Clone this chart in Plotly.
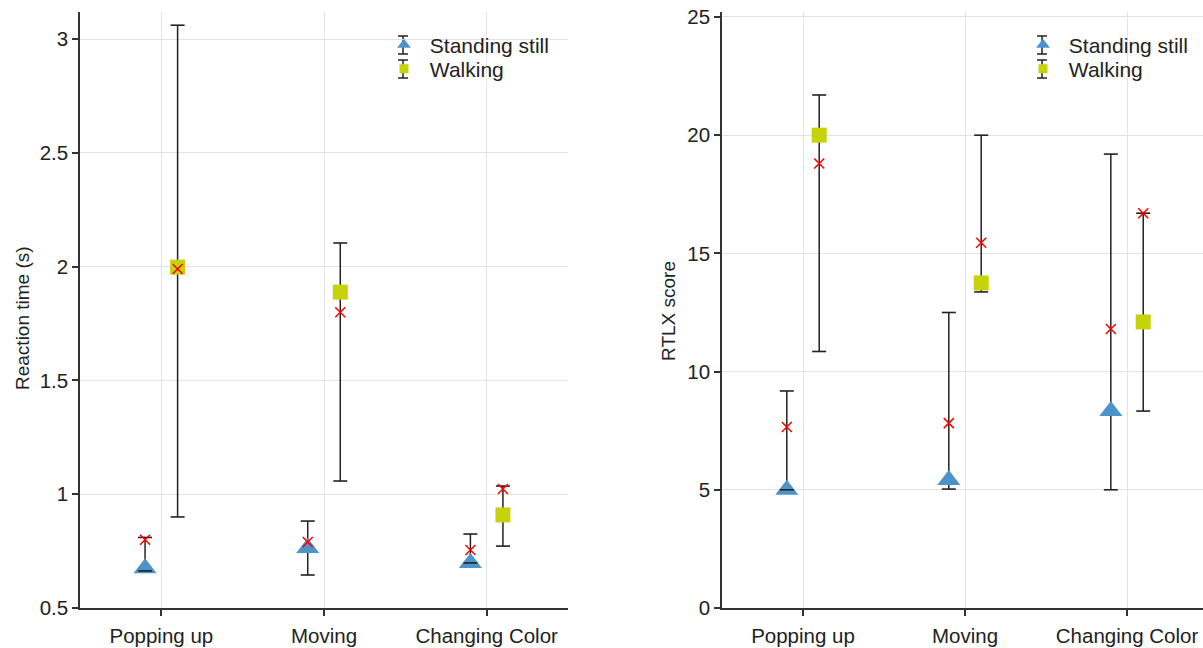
import plotly.graph_objects as go

categories = ["Popping up", "Moving", "Changing Color"]

# Reaction time (s)
rt_stand_median = [0.675, 0.764, 0.698]
rt_stand_low = [0.663, 0.645, 0.698]
rt_stand_high = [0.81, 0.882, 0.825]
rt_stand_mean = [0.80, 0.79, 0.755]

rt_walk_median = [1.998, 1.888, 0.909]
rt_walk_low = [0.90, 1.058, 0.772]
rt_walk_high = [3.061, 2.104, 1.036]
rt_walk_mean = [1.99, 1.80, 1.023]

# RTLX score
rtlx_stand_median = [5.0, 5.41, 8.33]
rtlx_stand_low = [5.0, 5.03, 5.0]
rtlx_stand_high = [9.18, 12.5, 19.2]
rtlx_stand_mean = [7.66, 7.82, 11.8]

rtlx_walk_median = [20.0, 13.75, 12.1]
rtlx_walk_low = [10.85, 13.37, 8.33]
rtlx_walk_high = [21.7, 20.0, 16.7]
rtlx_walk_mean = [18.8, 15.45, 16.7]

rt_ticks = [0.5, 1, 1.5, 2, 2.5, 3]
rt_ticktext = ["0.5", "1", "1.5", "2", "2.5", "3"]
rtlx_ticks = [0, 5, 10, 15, 20, 25]

BLUE = "#4B93C8"
GREEN = "#C6D30B"
ERR = "#222222"
PAGE = 0  # body margin removed by post_script
W, H = 1203 - PAGE, 648 - PAGE
ML, MR, MT, MB = 0, 0, 12 - PAGE, 648 - 608
PW, PH = W - ML - MR, H - MT - MB
FONT = "Liberation Sans, Arial, Helvetica, sans-serif"

fig = go.Figure()


def add_series(xa, ya, offset, med, low, high, mean, symbol, color, size):
    xs = [i + offset for i in range(len(med))]
    fig.add_trace(go.Scatter(
        x=xs, y=med, mode="markers", xaxis=xa, yaxis=ya, showlegend=False,
        marker=dict(symbol=symbol, color=color, size=size, line=dict(width=0)),
        error_y=dict(type="data", symmetric=False,
                     array=[h - m for h, m in zip(high, med)],
                     arrayminus=[m - l for m, l in zip(med, low)],
                     color=ERR, thickness=1.5, width=0),
    ))
    # caps drawn above the markers
    fig.add_trace(go.Scatter(
        x=xs + xs, y=low + high, mode="markers", xaxis=xa, yaxis=ya, showlegend=False,
        marker=dict(symbol="line-ew", size=10, line=dict(width=1.6, color=ERR)),
        hoverinfo="skip",
    ))
    fig.add_trace(go.Scatter(
        x=xs, y=mean, mode="markers", xaxis=xa, yaxis=ya, showlegend=False,
        marker=dict(symbol="x-thin", size=10, line=dict(width=1.5, color="red")),
    ))


OFF = 0.1
add_series("x", "y", -OFF, rt_stand_median, rt_stand_low, rt_stand_high, rt_stand_mean, "triangle-up", BLUE, 20)
add_series("x", "y", OFF, rt_walk_median, rt_walk_low, rt_walk_high, rt_walk_mean, "square", GREEN, 15)
add_series("x2", "y2", -OFF, rtlx_stand_median, rtlx_stand_low, rtlx_stand_high, rtlx_stand_mean, "triangle-up", BLUE, 20)
add_series("x2", "y2", OFF, rtlx_walk_median, rtlx_walk_low, rtlx_walk_high, rtlx_walk_mean, "square", GREEN, 15)


def px(sx):
    """screen x (reference pixels) -> paper"""
    return (sx - PAGE - ML) / PW


def py(sy):
    """screen y (reference pixels) -> paper"""
    return (H - MB - (sy - PAGE)) / PH


LEG_FONT = dict(size=21, family=FONT, color="#222222")
legend_layout = {}
items = [("Standing still", "triangle-up", BLUE, 12, 45), ("Walking", "square", GREEN, 9, 69)]
k = 1
for xa, ya, lx in [("x", "y", 384), ("x2", "y2", 1023)]:
    for name, sym, col, sz, cy in items:
        lname = "legend" if k == 1 else f"legend{k}"
        fig.add_trace(go.Scatter(x=[None], y=[None], mode="markers", xaxis=xa, yaxis=ya,
                                 name="\u00a0" + name, legend=lname,
                                 marker=dict(symbol=sym, color=col, size=sz)))
        legend_layout[lname] = dict(x=px(lx), y=py(cy), xanchor="left", yanchor="middle",
                                    bgcolor="rgba(0,0,0,0)", font=LEG_FONT,
                                    itemclick=False, itemdoubleclick=False)
        k += 1

shapes = []
# error-bar glyphs in the legends
for sx in [403, 1042]:
    for cy in [45, 69]:
        shapes.append(dict(type="line", xref="paper", yref="paper", layer="below",
                           x0=px(sx), x1=px(sx), y0=py(cy - 9), y1=py(cy + 9),
                           line=dict(color=ERR, width=1.5)))
        for yy in [cy - 9, cy + 9]:
            shapes.append(dict(type="line", xref="paper", yref="paper", layer="below",
                               x0=px(sx - 5), x1=px(sx + 5), y0=py(yy), y1=py(yy),
                               line=dict(color=ERR, width=1.5)))

axis_common = dict(showline=True, linecolor="#333333", linewidth=1.5,
                   ticks="outside", ticklen=6, tickwidth=1.5, tickcolor="#333333",
                   showgrid=True, gridcolor="#E3E3E3", gridwidth=1,
                   zeroline=False, tickfont=dict(size=20.5, color="#222222", family=FONT),
                   automargin=False, ticklabeloverflow="allow")

fig.update_layout(
    width=W, height=H,
    margin=dict(l=ML, r=MR, t=MT, b=MB),
    plot_bgcolor="white", paper_bgcolor="white",
    font=dict(family=FONT, size=20, color="#222222"),
    xaxis=dict(domain=[px(80), px(568)], range=[-0.5, 2.5], ticklabelstandoff=3,
               tickvals=[0, 1, 2], ticktext=categories, anchor="y", **axis_common),
    yaxis=dict(domain=[0, 1], range=[0.5, 3.119], tickvals=rt_ticks, ticktext=rt_ticktext,
               anchor="x", **axis_common),
    xaxis2=dict(domain=[px(722), 1.0], range=[-0.5, 2.469], ticklabelstandoff=3,
                tickvals=[0, 1, 2], ticktext=categories, anchor="y2", **axis_common),
    yaxis2=dict(domain=[0, 1], range=[0, 25.21], tickvals=rtlx_ticks,
                anchor="x2", **axis_common),
    shapes=shapes,
    annotations=[
        dict(text="Reaction time (s)", xref="paper", yref="paper", x=px(22), y=py(318),
             xanchor="center", yanchor="middle",
             textangle=-90, showarrow=False, font=dict(size=19, family=FONT, color="#222222")),
        dict(text="RTLX score", xref="paper", yref="paper", x=px(668), y=py(311),
             xanchor="center", yanchor="middle",
             textangle=-90, showarrow=False, font=dict(size=19, family=FONT, color="#222222")),
    ],
    **legend_layout,
)

fig.write_html("out.html",
               config={"displayModeBar": False},
               post_script="document.body.style.margin='0';document.body.style.overflow='hidden';")
